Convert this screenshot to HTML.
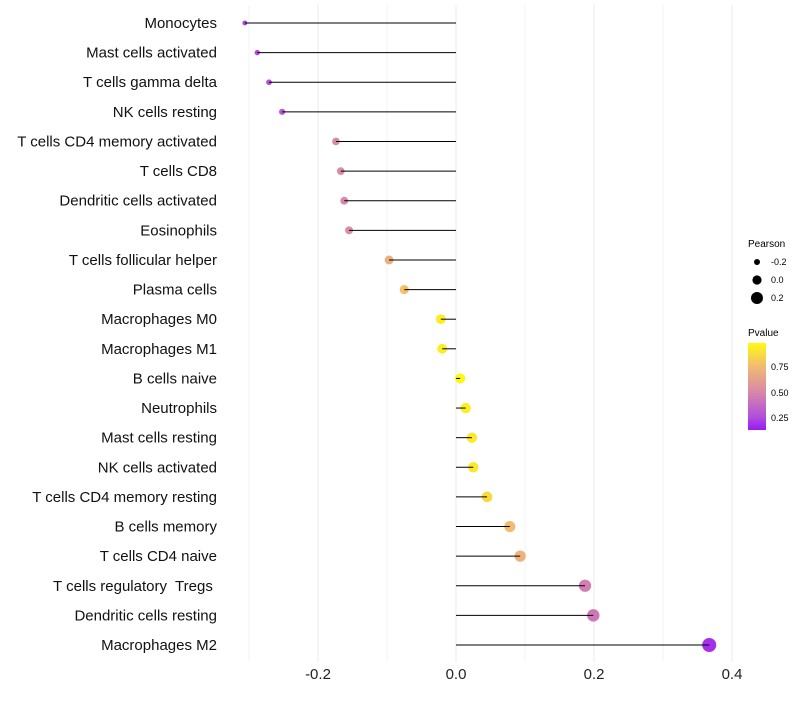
<!DOCTYPE html>
<html><head><meta charset="utf-8"><style>
body{margin:0;background:#fff;font-family:"Liberation Sans",sans-serif}
text{white-space:pre}
</style></head><body>
<svg id="chart" width="800" height="700" xmlns="http://www.w3.org/2000/svg">
<defs><linearGradient id="pg" x1="0" y1="1" x2="0" y2="0">
<stop offset="0" stop-color="#9A1AF5"/><stop offset="0.15" stop-color="#B04FDC"/><stop offset="0.44" stop-color="#D889A8"/><stop offset="0.72" stop-color="#F1B874"/><stop offset="1" stop-color="#FFFA10"/>
</linearGradient></defs>
<g id="grid"></g><g id="dots"></g><g id="marks"></g><g id="labels"></g><g id="xaxis"></g>
<g font-size="9" fill="#000">
<text x="748" y="247" font-size="10">Pearson</text>
<circle cx="757" cy="262" r="3"/><text x="771" y="265">-0.2</text>
<circle cx="757" cy="280" r="4.6"/><text x="771" y="283">0.0</text>
<circle cx="757" cy="298" r="6"/><text x="771" y="301">0.2</text>
<text x="748" y="336" font-size="10">Pvalue</text>
<rect x="748" y="343" width="18" height="87" fill="url(#pg)"/>
<text x="771" y="370">0.75</text>
<text x="771" y="396">0.50</text>
<text x="771" y="421">0.25</text>
</g>
</svg>
<script>
const categories=["Monocytes","Mast cells activated","T cells gamma delta","NK cells resting","T cells CD4 memory activated","T cells CD8","Dendritic cells activated","Eosinophils","T cells follicular helper","Plasma cells","Macrophages M0","Macrophages M1","B cells naive","Neutrophils","Mast cells resting","NK cells activated","T cells CD4 memory resting","B cells memory","T cells CD4 naive","T cells regulatory  Tregs ","Dendritic cells resting","Macrophages M2"];
const pearson=[-0.306,-0.288,-0.271,-0.252,-0.174,-0.167,-0.162,-0.155,-0.097,-0.075,-0.022,-0.020,0.006,0.014,0.023,0.025,0.045,0.078,0.093,0.187,0.199,0.367];
const pvalue=[0.2,0.22,0.25,0.28,0.5,0.52,0.5,0.52,0.7,0.78,0.95,0.95,0.99,0.96,0.94,0.93,0.88,0.76,0.72,0.45,0.42,0.1];
const xTicks=[-0.2,0.0,0.2,0.4];
const xTickLabels=["-0.2","0.0","0.2","0.4"];
const xMinor=[-0.3,-0.1,0.1,0.3];
const NS="http://www.w3.org/2000/svg";
const xs=v=>456+v*690;
const ys=i=>23+i*(622/21);
const rs=v=>Math.max(1.5,Math.sqrt(Math.max(0,25.7+64*v)));
const stops=[[0,[154,26,245]],[0.25,[184,80,216]],[0.5,[216,137,168]],[0.75,[241,184,116]],[1,[255,250,16]]];
function col(p){for(let k=0;k<stops.length-1;k++){const[a,c1]=stops[k],[b,c2]=stops[k+1];if(p<=b){const t=(p-a)/(b-a);return`rgb(${c1.map((c,j)=>Math.round(c+(c2[j]-c)*t)).join(",")})`;}}return"rgb(255,250,16)";}
function mk(tag,attrs,parent){const e=document.createElementNS(NS,tag);for(const k in attrs)e.setAttribute(k,attrs[k]);document.getElementById(parent).appendChild(e);return e;}
xMinor.forEach(v=>{const l=mk("line",{x1:xs(v),x2:xs(v),y1:5,y2:662,stroke:"#f3f3f3","stroke-width":1},"grid");

});
xTicks.forEach((v,i)=>{const l=mk("line",{x1:xs(v),x2:xs(v),y1:5,y2:662,stroke:"#ebebeb","stroke-width":1},"grid");


const t=mk("text",{x:xs(v),y:679,"text-anchor":"middle","font-size":15,fill:"#222"},"xaxis");t.textContent=xTickLabels[i];

});
categories.forEach((c,i)=>{const y=ys(i);
const d=mk("circle",{cx:xs(pearson[i]),cy:y,r:rs(pearson[i]),fill:col(pvalue[i])},"dots");


const l=mk("line",{x1:xs(0),x2:xs(pearson[i]),y1:y,y2:y,stroke:"#000","stroke-width":1},"marks");


const t=mk("text",{x:217,y:y+5,"text-anchor":"end","font-size":15,fill:"#111"},"labels");t.textContent=c;

});
</script>
</body></html>
